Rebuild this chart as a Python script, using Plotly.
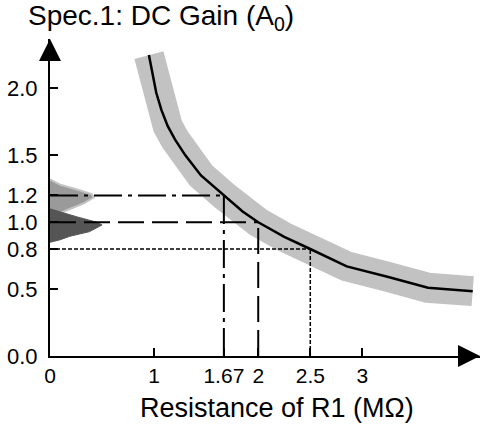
import plotly.graph_objects as go

# ---- data ----
curve_R = [0.95, 0.98, 1.02, 1.07, 1.13, 1.2, 1.3, 1.45, 1.67, 1.85, 2.0, 2.25, 2.5, 2.85, 3.25, 3.63, 4.06]
curve_A = [2.25, 2.12, 1.97, 1.84, 1.72, 1.62, 1.5, 1.35, 1.2, 1.08, 1.0, 0.89, 0.8, 0.67, 0.59, 0.51, 0.485]

spec_R = [1.67, 2.0, 2.5]
spec_A = [1.2, 1.0, 0.8]

light_dens = [0, 0.1, 0.26, 0.4, 0.42, 0.32, 0.16, 0.1, 0]
light_A = [1.32, 1.28, 1.245, 1.21, 1.185, 1.14, 1.09, 1.07, 1.05]

dark_dens = [0, 0.12, 0.26, 0.45, 0.5, 0.38, 0.19, 0.1, 0]
dark_A = [1.1, 1.07, 1.04, 1.0, 0.98, 0.93, 0.895, 0.87, 0.85]

x_tickvals = [0, 1, 1.67, 2, 2.5, 3]
x_ticktext = ["0", "1", "1.67", "2", "2.5", "3"]
y_tickvals = [0, 0.5, 0.8, 1.0, 1.2, 1.5, 2.0]
y_ticktext = ["0.0", "0.5", "0.8", "1.0", "1.2", "1.5", "2.0"]

X_MAX = 4.13
Y_MAX = 2.37
FONT = "Liberation Sans, Arial, sans-serif"

fig = go.Figure()

# distributions on the y axis
fig.add_trace(go.Scatter(x=light_dens, y=light_A, mode="lines", fill="toself",
                         fillcolor="#9a9a9a", line=dict(color="#c4c4c4", width=2),
                         hoverinfo="skip"))
fig.add_trace(go.Scatter(x=dark_dens, y=dark_A, mode="lines", fill="toself",
                         fillcolor="#555555", line=dict(color="#555555", width=1),
                         hoverinfo="skip"))

# gray tolerance band and curve
fig.add_trace(go.Scatter(x=curve_R, y=curve_A, mode="lines",
                         line=dict(color="#c2c2c2", width=30), hoverinfo="skip"))
fig.add_trace(go.Scatter(x=curve_R, y=curve_A, mode="lines",
                         line=dict(color="black", width=2.5), hoverinfo="skip"))

# spec guide lines
dashes = ["28px,6px,4px,6px", "26px,8px", "4px,2px"]
widths = [2, 2, 1.5]
for r, a, d, w in zip(spec_R, spec_A, dashes, widths):
    fig.add_trace(go.Scatter(x=[0, r], y=[a, a], mode="lines",
                             line=dict(color="black", width=w, dash=d), hoverinfo="skip"))
    fig.add_trace(go.Scatter(x=[r, r], y=[0, a], mode="lines",
                             line=dict(color="black", width=w, dash=d), hoverinfo="skip"))

fig.update_layout(
    width=482, height=428,
    margin=dict(l=50, r=2, t=39, b=72),
    plot_bgcolor="white", paper_bgcolor="white",
    showlegend=False,
    font=dict(family=FONT, size=21, color="black"),
    xaxis=dict(range=[0, X_MAX], showgrid=False, zeroline=False, automargin=False,
               showline=True, linecolor="black", linewidth=2,
               tickvals=x_tickvals, ticktext=x_ticktext,
               ticks="inside", ticklen=8, tickwidth=2, tickcolor="black",
               ticklabelstandoff=0,
               tickfont=dict(family=FONT, size=21)),
    yaxis=dict(range=[0, Y_MAX], showgrid=False, zeroline=False, automargin=False,
               showline=True, linecolor="black", linewidth=2,
               tickvals=y_tickvals, ticktext=y_ticktext,
               ticks="inside", ticklen=8, tickwidth=2, tickcolor="black",
               ticklabelstandoff=6,
               tickfont=dict(family=FONT, size=22)),
)

# axis arrowheads
fig.add_annotation(x=0, y=Y_MAX, xref="x", yref="y", ax=0, ay=22,
                   showarrow=True, arrowhead=2, arrowsize=2.2, arrowwidth=2, arrowcolor="black", text="")
fig.add_annotation(x=X_MAX, y=0, xref="x", yref="y", ax=-22, ay=0,
                   showarrow=True, arrowhead=2, arrowsize=2.2, arrowwidth=2, arrowcolor="black", text="")

# titles
fig.add_annotation(text="Spec.1: DC Gain (A<sub>0</sub>)", xref="paper", yref="paper",
                   x=-0.056, y=1.128, xanchor="left", yanchor="top", showarrow=False,
                   font=dict(family=FONT, size=28, color="black"))
fig.add_annotation(text="Resistance of R1 (MΩ)", xref="paper", yref="paper",
                   x=0.528, y=-0.164, xanchor="center", yanchor="middle", showarrow=False,
                   font=dict(family=FONT, size=27, color="black"))

fig.write_html("out.html", config={"displayModeBar": False},
               post_script="document.body.style.margin='0';document.body.style.padding='0';")
